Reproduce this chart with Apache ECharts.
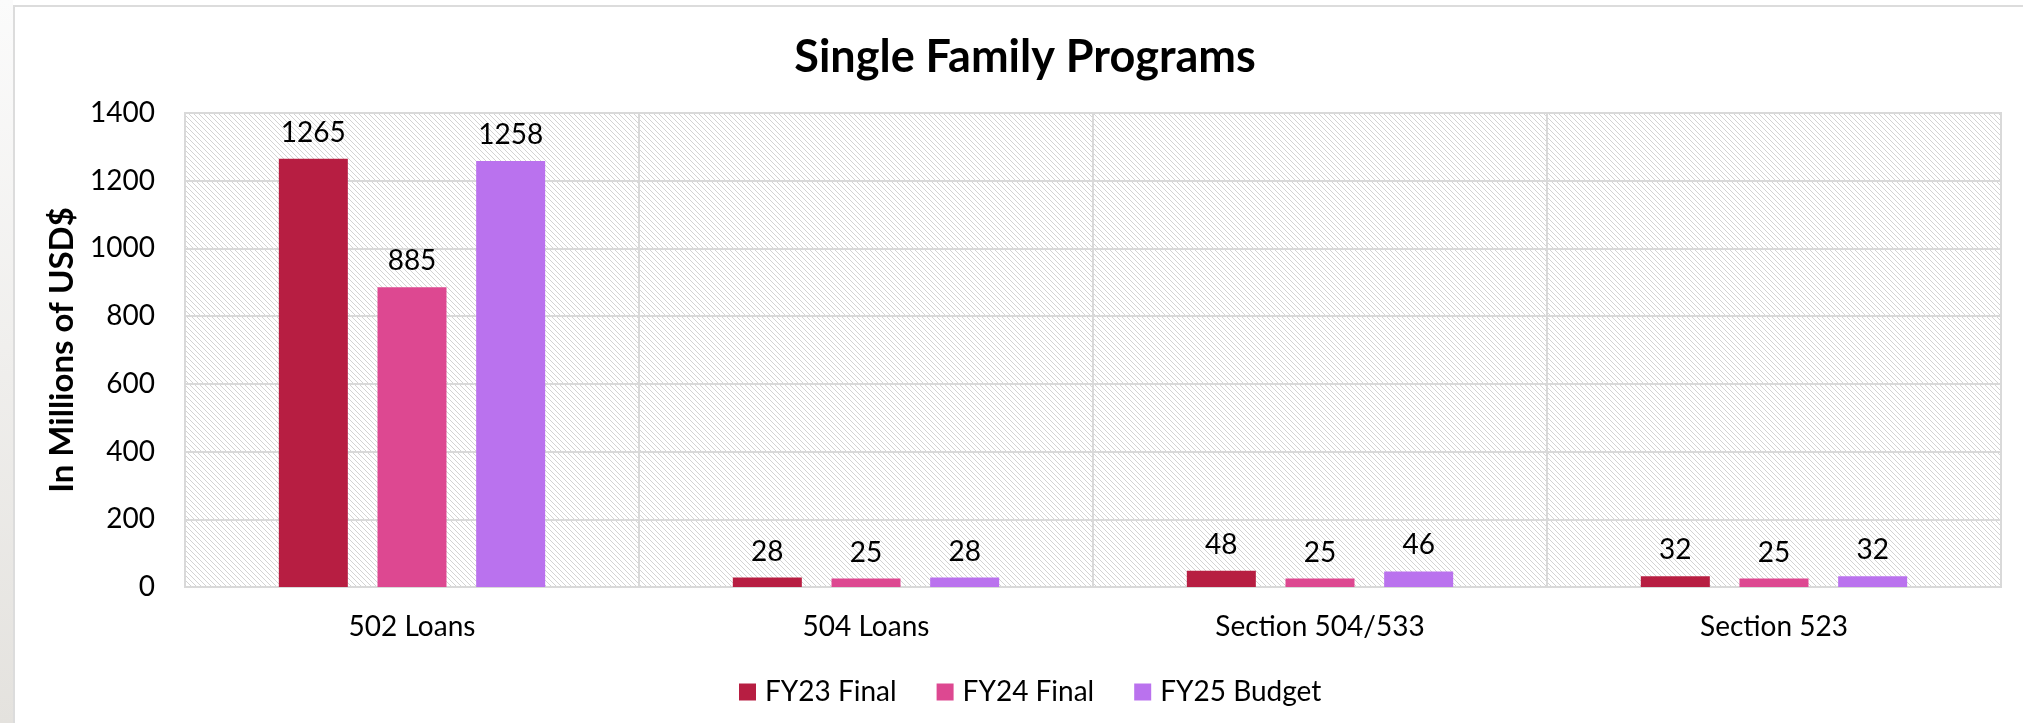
<!DOCTYPE html>
<html>
<head>
<meta charset="utf-8">
<title>Single Family Programs</title>
<script src="https://cdn.jsdelivr.net/npm/echarts@6/dist/echarts.min.js"></script>
<style>
    html, body { margin: 0; padding: 0; background: #fff; }
    #chart { width: 2023px; height: 723px; }
</style>
</head>
<body>
<div id="chart"></div>
<script>
// data
const categories = ['502 Loans', '504 Loans', 'Section 504/533', 'Section 523']
const seriesNames = ['FY23 Final', 'FY24 Final', 'FY25 Budget']
const fy23Final = [1265, 28, 48, 32]
const fy24Final = [885, 25, 25, 25]
const fy25Budget = [1258, 28, 46, 32]
const yTicks = { min: 0, max: 1400, interval: 200 }

const colors = ['#b71e42', '#dd4891', '#ba72ee']
const FONT = 'Lato, "Open Sans", sans-serif'

// hatch fill for the plot area (light "\" diagonals)
function hatchTile() {
    const size = 5
    const c = document.createElement('canvas')
    c.width = size
    c.height = size
    const ctx = c.getContext('2d')
    ctx.fillStyle = '#ffffff'
    ctx.fillRect(0, 0, size, size)
    ctx.fillStyle = '#d3d3d3'
    for (let i = 0; i < size; i++) {
        ctx.fillRect(i, i, 1, 1)
    }
    return c
}

const chart = echarts.init(document.getElementById('chart'), null, { renderer: 'canvas' })

const seriesData = [fy23Final, fy24Final, fy25Budget]
const series = seriesNames.map((name, i) => ({
    name: name,
    type: 'bar',
    data: seriesData[i],
    barWidth: 69,
    barGap: '43%',
    itemStyle: { color: colors[i] },
    label: {
        show: true,
        position: 'top',
        distance: 12,
        color: '#000',
        fontSize: 28,
        fontFamily: FONT
    },
    animation: false
}))

chart.setOption({
    backgroundColor: '#ffffff',
    textStyle: { fontFamily: FONT },
    graphic: [
        {
            // slide shadow strip on the left
            type: 'rect',
            shape: { x: 0, y: 0, width: 13, height: 723 },
            style: {
                fill: new echarts.graphic.LinearGradient(0, 0, 0, 1, [
                    { offset: 0, color: '#fbfbfb' },
                    { offset: 1, color: '#e4e2de' }
                ])
            },
            silent: true
        },
        {
            // panel border (top + left)
            type: 'polyline',
            shape: { points: [[14, 723], [14, 6], [2023, 6]] },
            style: { stroke: '#dcdcdc', lineWidth: 2, fill: null },
            silent: true
        }
    ],
    title: {
        text: 'Single Family Programs',
        left: 1020,
        textAlign: 'center',
        top: 30,
        textStyle: {
            fontFamily: FONT,
            fontWeight: 'bold',
            fontSize: 45,
            color: '#000'
        }
    },
    legend: {
        data: seriesNames,
        left: 734,
        top: 673,
        icon: 'rect',
        itemWidth: 17,
        itemHeight: 17,
        itemGap: 40,
        textStyle: {
            fontFamily: FONT,
            fontSize: 28,
            color: '#000',
            padding: [0, 0, 0, 4]
        }
    },
    grid: {
        left: 185,
        right: 22,
        top: 113,
        bottom: 136,
        show: true,
        borderColor: '#d9d9d9',
        borderWidth: 2,
        backgroundColor: { image: hatchTile(), repeat: 'repeat' }
    },
    xAxis: {
        type: 'category',
        data: categories,
        axisLine: { show: true, lineStyle: { color: '#d9d9d9', width: 2 } },
        axisTick: { show: false },
        splitLine: { show: true, lineStyle: { color: '#d9d9d9', width: 2 } },
        axisLabel: {
            color: '#000',
            fontSize: 28,
            fontFamily: FONT,
            margin: 26
        }
    },
    yAxis: {
        type: 'value',
        min: yTicks.min,
        max: yTicks.max,
        interval: yTicks.interval,
        name: 'In Millions of USD$',
        nameLocation: 'middle',
        nameGap: 83,
        nameTextStyle: {
            fontFamily: FONT,
            fontWeight: 'bold',
            fontSize: 33,
            color: '#000'
        },
        axisLine: { show: false },
        axisTick: { show: false },
        splitLine: { show: true, lineStyle: { color: '#d9d9d9', width: 2 } },
        axisLabel: {
            color: '#000',
            fontSize: 28,
            fontFamily: FONT,
            margin: 30,
            formatter: (v) => String(v)
        }
    },
    series: series
})
</script>
</body>
</html>
